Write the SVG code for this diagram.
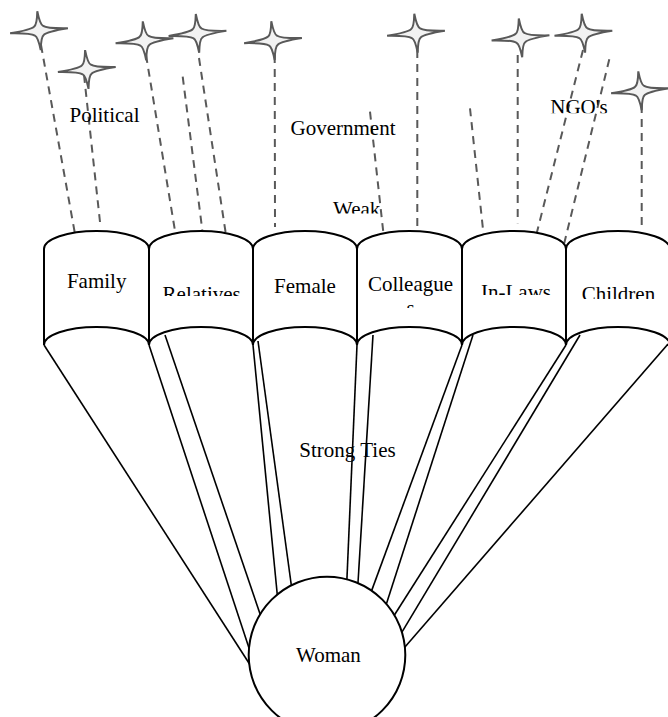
<svg xmlns="http://www.w3.org/2000/svg" xmlns:xlink="http://www.w3.org/1999/xlink" width="668" height="717" viewBox="0 0 668 717">
<style>
text{font-family:"Liberation Serif","Times New Roman",serif;font-size:21px;fill:#000}
.box{fill:#fff;stroke:#000;stroke-width:2}
.tie{stroke:#000;stroke-width:1.6;fill:none}
.weak{stroke:#595959;stroke-width:2;stroke-dasharray:8 6;fill:none}
.star{fill:#f2f2f2;stroke:#595959;stroke-width:2;stroke-linejoin:miter}
</style>
<defs>
<path id="star" d="M0,-19.5 Q1.5,-6 4.5,-4.5 Q8,-1.5 29,0 Q8,1.5 4.5,4.5 Q1.5,6 0,19.5 Q-1.5,6 -4.5,4.5 Q-8,1.5 -29,0 Q-8,-1.5 -4.5,-4.5 Q-1.5,-6 0,-19.5 Z"/>
<clipPath id="c-rel"><rect x="150" y="240" width="103" height="56"/></clipPath>
<clipPath id="c-col"><rect x="357" y="240" width="105" height="68"/></clipPath>
<clipPath id="c-inl"><rect x="462" y="240" width="104" height="55"/></clipPath>
<clipPath id="c-chi"><rect x="566" y="240" width="102" height="59"/></clipPath>
<clipPath id="c-ngo"><rect x="540" y="80" width="80" height="33.3"/></clipPath>
<clipPath id="c-weak"><rect x="320" y="190" width="80" height="23.5"/></clipPath>
</defs>
<rect width="668" height="717" fill="#fff"/>
<g id="connectors">
<g class="weak">
<line x1="41" y1="45" x2="75" y2="234"/>
<line x1="84" y1="75" x2="100" y2="222"/>
<line x1="146" y1="55" x2="176" y2="237"/>
<line x1="182.7" y1="76.7" x2="202.3" y2="230"/>
<line x1="199" y1="58" x2="226" y2="235"/>
<line x1="274.7" y1="55" x2="275" y2="227"/>
<line x1="370" y1="111.7" x2="383.5" y2="234"/>
<line x1="417.3" y1="50" x2="417.3" y2="226.7"/>
<line x1="470" y1="108.3" x2="483.5" y2="234"/>
<line x1="517.7" y1="55" x2="517.7" y2="223.3"/>
<line x1="583" y1="50" x2="536.5" y2="234"/>
<line x1="609.3" y1="59.3" x2="564.3" y2="243"/>
<line x1="641.7" y1="105" x2="641.7" y2="228.3"/>
</g>
<g class="tie">
<line x1="44" y1="345" x2="249.7" y2="664.2"/>
<line x1="149" y1="345" x2="249.5" y2="649.6"/>
<line x1="165" y1="335" x2="261" y2="616.7"/>
<line x1="253" y1="345" x2="277.5" y2="597"/>
<line x1="258" y1="341" x2="291.7" y2="588"/>
<line x1="357" y1="345" x2="346.8" y2="582"/>
<line x1="373" y1="335" x2="357.8" y2="586"/>
<line x1="462" y1="345" x2="370.9" y2="592.6"/>
<line x1="473" y1="335" x2="385.8" y2="605.8"/>
<line x1="566" y1="345" x2="393.8" y2="616"/>
<line x1="580" y1="335" x2="400.9" y2="633.9"/>
<line x1="668" y1="344" x2="403" y2="649.3"/>
</g>
</g>
<g id="stars">
<use xlink:href="#star" class="star" transform="translate(39,30.7) rotate(-5)"/>
<use xlink:href="#star" class="star" transform="translate(86.8,69.5) rotate(-5)"/>
<use xlink:href="#star" class="star" transform="translate(144.5,40.8) rotate(-5)"/>
<use xlink:href="#star" class="star" transform="translate(197.5,33.4) rotate(-5)"/>
<use xlink:href="#star" class="star" transform="translate(273,40.6) rotate(-5)"/>
<use xlink:href="#star" class="star" transform="translate(416,33.2) rotate(-5)"/>
<use xlink:href="#star" class="star" transform="translate(520.5,37.9) rotate(-5)"/>
<use xlink:href="#star" class="star" transform="translate(583.4,33.2) rotate(-5)"/>
<use xlink:href="#star" class="star" transform="translate(640,90.8) rotate(-5)"/>
</g>
<g id="family">
<path class="box" d="M44,249 A52.5,18 0 0 1 149,249 L149,345 A52.5,18 0 0 0 44,345 Z"/>
<text x="96.7" y="288.3" text-anchor="middle">Family</text>
</g>
<g id="relatives">
<path class="box" d="M149,249 A52,18 0 0 1 253,249 L253,345 A52,18 0 0 0 149,345 Z"/>
<text x="201.7" y="301" text-anchor="middle" clip-path="url(#c-rel)">Relatives</text>
</g>
<g id="female">
<path class="box" d="M253,249 A52,18 0 0 1 357,249 L357,345 A52,18 0 0 0 253,345 Z"/>
<text x="305" y="293.3" text-anchor="middle">Female</text>
</g>
<g id="colleagues">
<path class="box" d="M357,249 A52.5,18 0 0 1 462,249 L462,345 A52.5,18 0 0 0 357,345 Z"/>
<g clip-path="url(#c-col)">
<text x="410.5" y="290.7" text-anchor="middle">Colleague</text>
<text x="410.5" y="314.7" text-anchor="middle">s</text>
</g>
</g>
<g id="inlaws">
<path class="box" d="M462,249 A52,18 0 0 1 566,249 L566,345 A52,18 0 0 0 462,345 Z"/>
<text x="516" y="299" text-anchor="middle" clip-path="url(#c-inl)">In-Laws</text>
</g>
<g id="children">
<path class="box" d="M566,249 A52,18 0 0 1 670,249 L670,345 A52,18 0 0 0 566,345 Z"/>
<text x="618.4" y="300.6" text-anchor="middle" clip-path="url(#c-chi)">Children</text>
</g>
<g id="woman">
<circle cx="327" cy="655" r="78.3" fill="#fff" stroke="#000" stroke-width="2"/>
<text x="328.4" y="661.7" text-anchor="middle">Woman</text>
</g>
<g id="labels">
<text x="104.5" y="122" text-anchor="middle">Political</text>
<text x="343" y="135" text-anchor="middle">Government</text>
<text x="333" y="215.6" clip-path="url(#c-weak)">Weak</text>
<text x="579" y="114" text-anchor="middle" clip-path="url(#c-ngo)">NGO's</text>
<text x="347.5" y="457" text-anchor="middle">Strong Ties</text>
</g>
</svg>
